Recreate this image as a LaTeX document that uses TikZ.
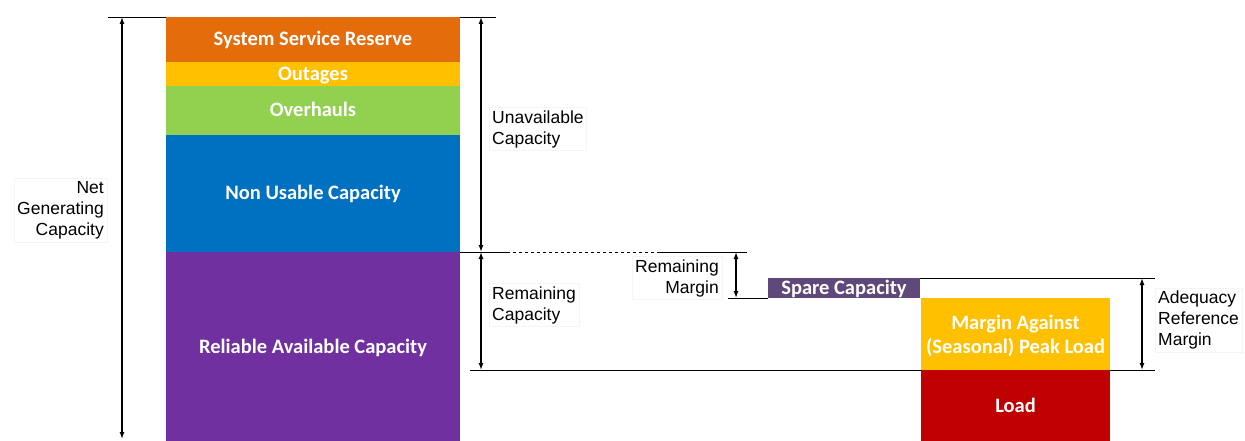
\documentclass[tikz,border=0pt]{standalone}
\usepackage{fontspec}
\setmainfont{Liberation Sans}
\newfontfamily\boxfont{Carlito}
\usepackage{tikz}
\usetikzlibrary{arrows.meta, positioning}

\definecolor{ssrorange}{HTML}{E46C0A}
\definecolor{outyellow}{HTML}{FFC000}
\definecolor{ovhgreen}{HTML}{92D050}
\definecolor{nucblue}{HTML}{0070C0}
\definecolor{racpurple}{HTML}{7030A0}
\definecolor{sparepurple}{HTML}{5F497A}
\definecolor{loadred}{HTML}{C00000}

\tikzset{
  band/.style={inner sep=0pt, outer sep=0pt, text=white, align=center,
    text height=15pt, text depth=2pt,
    font=\boxfont\bfseries\fontsize{20.5}{24}\selectfont},
  lbl/.style={font=\fontsize{17.5}{21}\selectfont, inner sep=3pt, fill=white, draw=black!4},
  dim/.style={<->, line width=1.3pt, >={Latex[length=7pt,width=5pt]}},
  rule/.style={line width=0.8pt},
}

\begin{document}
\begin{tikzpicture}[x=1pt,y=-1pt]
	\useasboundingbox (0,0) rectangle (1245,441);

	% level rules (drawn first, boxes sit on top)
	\coordinate (ngleft) at (108,17);
	\coordinate (uaright) at (496,17);
	\coordinate (rcleft) at (470,370);
	\coordinate (arright) at (1155,370);
	\draw[rule] (rcleft) -- (arright);

	% stacked generating capacity column
	\node[band, fill=ssrorange, minimum width=294, minimum height=45, anchor=north west] (ssr) at (166,17) {System Service Reserve};
	\node[band, fill=outyellow, minimum width=294, minimum height=24, below=0pt of ssr] (out) {Outages};
	\node[band, fill=ovhgreen, minimum width=294, minimum height=49, below=0pt of out] (ovh) {Overhauls};
	\node[band, fill=nucblue, minimum width=294, minimum height=117, below=0pt of ovh] (nuc) {Non Usable Capacity};
	\node[band, fill=racpurple, minimum width=294, minimum height=189, below=0pt of nuc] (rac) {Reliable Available Capacity};

	% spare capacity, margin and load
	\node[band, fill=sparepurple, minimum width=152, minimum height=20, anchor=north west] (spare) at (768,278) {Spare Capacity};
	\node[band, fill=outyellow, minimum width=189, minimum height=72, text height=40pt, text depth=1pt, anchor=north west] (marg) at (921,298) {Margin Against\\(Seasonal) Peak Load};
	\node[band, fill=loadred, minimum width=189, minimum height=71, below=0pt of marg] (load) {Load};

	% top and intermediate rules
	\draw[rule] (ngleft) -- (ssr.north west);
	\draw[rule] (ssr.north east) -- (uaright);
	\coordinate (rsolid) at (507,252);
	\coordinate (rdash) at (660,252);
	\coordinate (rmtop) at (747,252);
	\coordinate (rmbot) at (728,298);
	\coordinate (adtop) at (1155,278);
	\draw[rule] (nuc.south east) -- (rsolid);
	\draw[rule, dashed] (rsolid) -- (rdash);
	\draw[rule] (rdash) -- (rmtop);
	\draw[rule] (rmbot) -- (spare.south west);
	\draw[rule] (spare.north east) -- (adtop);

	% dimension arrows
	\coordinate (ngt) at (122,17);
	\coordinate (ngb) at (122,439);
	\coordinate (uat) at (481,17);
	\coordinate (uab) at (481,252);
	\coordinate (rcb) at (481,370);
	\coordinate (rmt) at (736,252);
	\coordinate (rmb) at (736,298);
	\coordinate (adt) at (1142,278);
	\coordinate (adb) at (1142,370);
	\draw[dim] (ngt) -- (ngb);
	\draw[dim] (uat) -- (uab);
	\draw[dim] (uab) -- (rcb);
	\draw[dim] (rmt) -- (rmb);
	\draw[dim] (adt) -- (adb);

	% labels
	\node[lbl, align=right, anchor=east] (nglbl) at (107,210) {Net\\Generating\\Capacity};
	\node[lbl, align=left, anchor=west] (ualbl) at (489,129) {Unavailable\\Capacity};
	\node[lbl, align=left, anchor=west] (rclbl) at (489,305) {Remaining\\Capacity};
	\node[lbl, align=right, anchor=east] (rmlbl) at (722,278) {Remaining\\Margin};
	\node[lbl, align=left, anchor=west] (adlbl) at (1155,320) {Adequacy\\Reference\\Margin};
\end{tikzpicture}
\end{document}
